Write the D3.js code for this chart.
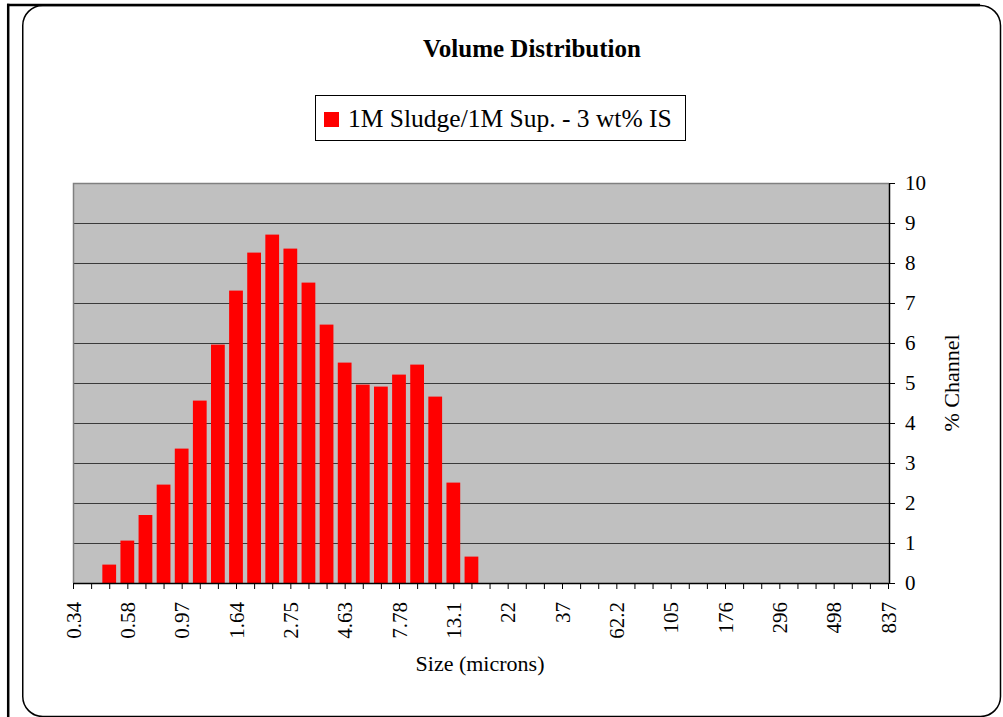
<!DOCTYPE html>
<html lang="en">
<head>
<meta charset="UTF-8">
<title>Volume Distribution</title>
<script src="https://d3js.org/d3.v7.min.js"></script>
<style>
    body { margin: 0; background: white; }
    text { font-family: "Liberation Serif", "Times New Roman", serif; fill: black; }
</style>
</head>
<body>
<div id="chart"></div>
<script>
// channel sizes (microns), one per category
const sizes = ["0.34","0.41","0.49","0.58","0.69","0.82","0.97","1.16","1.38","1.64",
    "1.95","2.31","2.75","3.27","3.89","4.63","5.5","6.54","7.78","9.25",
    "11","13.1","15.6","18.5","22","26.2","31.1","37","44","52.3",
    "62.2","74","88","105","124","148","176","209","249","296",
    "352","419","498","592","704","837"];
// % channel
const volume = [0, 0, 0.46, 1.06, 1.70, 2.46, 3.36, 4.56, 5.96, 7.31,
    8.26, 8.71, 8.36, 7.51, 6.46, 5.51, 4.96, 4.91, 5.21, 5.46,
    4.66, 2.51, 0.66, 0, 0, 0, 0, 0, 0, 0,
    0, 0, 0, 0, 0, 0, 0, 0, 0, 0,
    0, 0, 0, 0, 0, 0];
const yTicks = [0, 1, 2, 3, 4, 5, 6, 7, 8, 9, 10];
const seriesName = "1M Sludge/1M Sup. - 3 wt% IS";

const W = 1003, H = 717;
const plot = {left: 73, right: 889, top: 183, bottom: 583};

const svg = d3.select("#chart").append("svg")
    .attr("width", W).attr("height", H);

// frame
svg.append("rect")
    .attr("x", 22.75).attr("y", 5.5)
    .attr("width", 977.75).attr("height", 711)
    .attr("rx", 20).attr("ry", 20)
    .attr("fill", "white").attr("stroke", "black").attr("stroke-width", 1.5);
svg.append("line").attr("x1", 7).attr("x2", 980).attr("y1", 5).attr("y2", 5)
    .attr("stroke", "black").attr("stroke-width", 2.5);
svg.append("line").attr("x1", 8.2).attr("x2", 8.2).attr("y1", 3.8).attr("y2", H)
    .attr("stroke", "black").attr("stroke-width", 2.5);

// scales
const x = d3.scalePoint().domain(sizes).range([plot.left, plot.right - 1]);
const y = d3.scaleLinear().domain([0, 10]).range([plot.bottom, plot.top]);
const barW = x.step() * 0.76;

// plot background
svg.append("rect")
    .attr("x", plot.left).attr("y", plot.top)
    .attr("width", plot.right - plot.left).attr("height", plot.bottom - plot.top)
    .attr("fill", "#c0c0c0");

// gridlines
svg.append("g").selectAll("line")
    .data(yTicks.filter(d => d > 0 && d < 10))
    .join("line")
    .attr("x1", plot.left).attr("x2", plot.right)
    .attr("y1", d => Math.round(y(d)) + 0.5).attr("y2", d => Math.round(y(d)) + 0.5)
    .attr("stroke", "#3a3a3a").attr("stroke-width", 1);

// plot border (left/top)
svg.append("path")
    .attr("d", `M${plot.left + 0.5},${plot.bottom} V${plot.top + 0.5} H${plot.right}`)
    .attr("fill", "none").attr("stroke", "#808080").attr("stroke-width", 1.5);

// bars
svg.append("g").selectAll("rect")
    .data(sizes.map((s, i) => ({size: s, v: volume[i]})).filter(d => d.v > 0))
    .join("rect")
    .attr("x", d => x(d.size) - barW / 2)
    .attr("width", barW)
    .attr("y", d => y(d.v))
    .attr("height", d => y(0) - y(d.v))
    .attr("fill", "#ff0000");

// x axis
const xAxis = svg.append("g")
    .attr("transform", `translate(0,${plot.bottom})`)
    .call(d3.axisBottom(x).tickSize(6).tickSizeOuter(0)
        .tickFormat((d, i) => i % 3 === 0 ? d : ""));
xAxis.select(".domain").attr("stroke", "black").attr("stroke-width", 1.5);
xAxis.selectAll(".tick line").attr("stroke", "black").attr("stroke-width", 1);
xAxis.selectAll(".tick text")
    .attr("font-family", "Liberation Serif, serif")
    .attr("font-size", 21)
    .attr("transform", "rotate(-90)")
    .attr("text-anchor", "end")
    .attr("x", -19).attr("y", 0).attr("dy", "0.34em");

// y axis on right
const yAxis = svg.append("g")
    .attr("transform", `translate(${plot.right},0)`)
    .call(d3.axisRight(y).tickValues(yTicks).tickSize(6).tickSizeOuter(0).tickPadding(10));
yAxis.select(".domain").attr("stroke", "black").attr("stroke-width", 1.5);
yAxis.selectAll(".tick line").attr("stroke", "black").attr("stroke-width", 1);
yAxis.selectAll(".tick text")
    .attr("font-family", "Liberation Serif, serif")
    .attr("font-size", 21);

// titles
svg.append("text")
    .attr("x", 532).attr("y", 57)
    .attr("text-anchor", "middle")
    .attr("font-size", 25).attr("font-weight", "bold")
    .text("Volume Distribution");

svg.append("text")
    .attr("x", 480).attr("y", 671)
    .attr("text-anchor", "middle")
    .attr("font-size", 22)
    .text("Size (microns)");

svg.append("text")
    .attr("transform", "translate(959,383) rotate(-90)")
    .attr("text-anchor", "middle")
    .attr("font-size", 22)
    .text("% Channel");

// legend
const lg = svg.append("g");
lg.append("rect")
    .attr("x", 315.5).attr("y", 95.5).attr("width", 370).attr("height", 45)
    .attr("fill", "white").attr("stroke", "black").attr("stroke-width", 1);
lg.append("rect")
    .attr("x", 324).attr("y", 112).attr("width", 15).attr("height", 15)
    .attr("fill", "#ff0000");
lg.append("text")
    .attr("x", 348).attr("y", 127)
    .attr("font-size", 25.5)
    .text(seriesName);
</script>
</body>
</html>
